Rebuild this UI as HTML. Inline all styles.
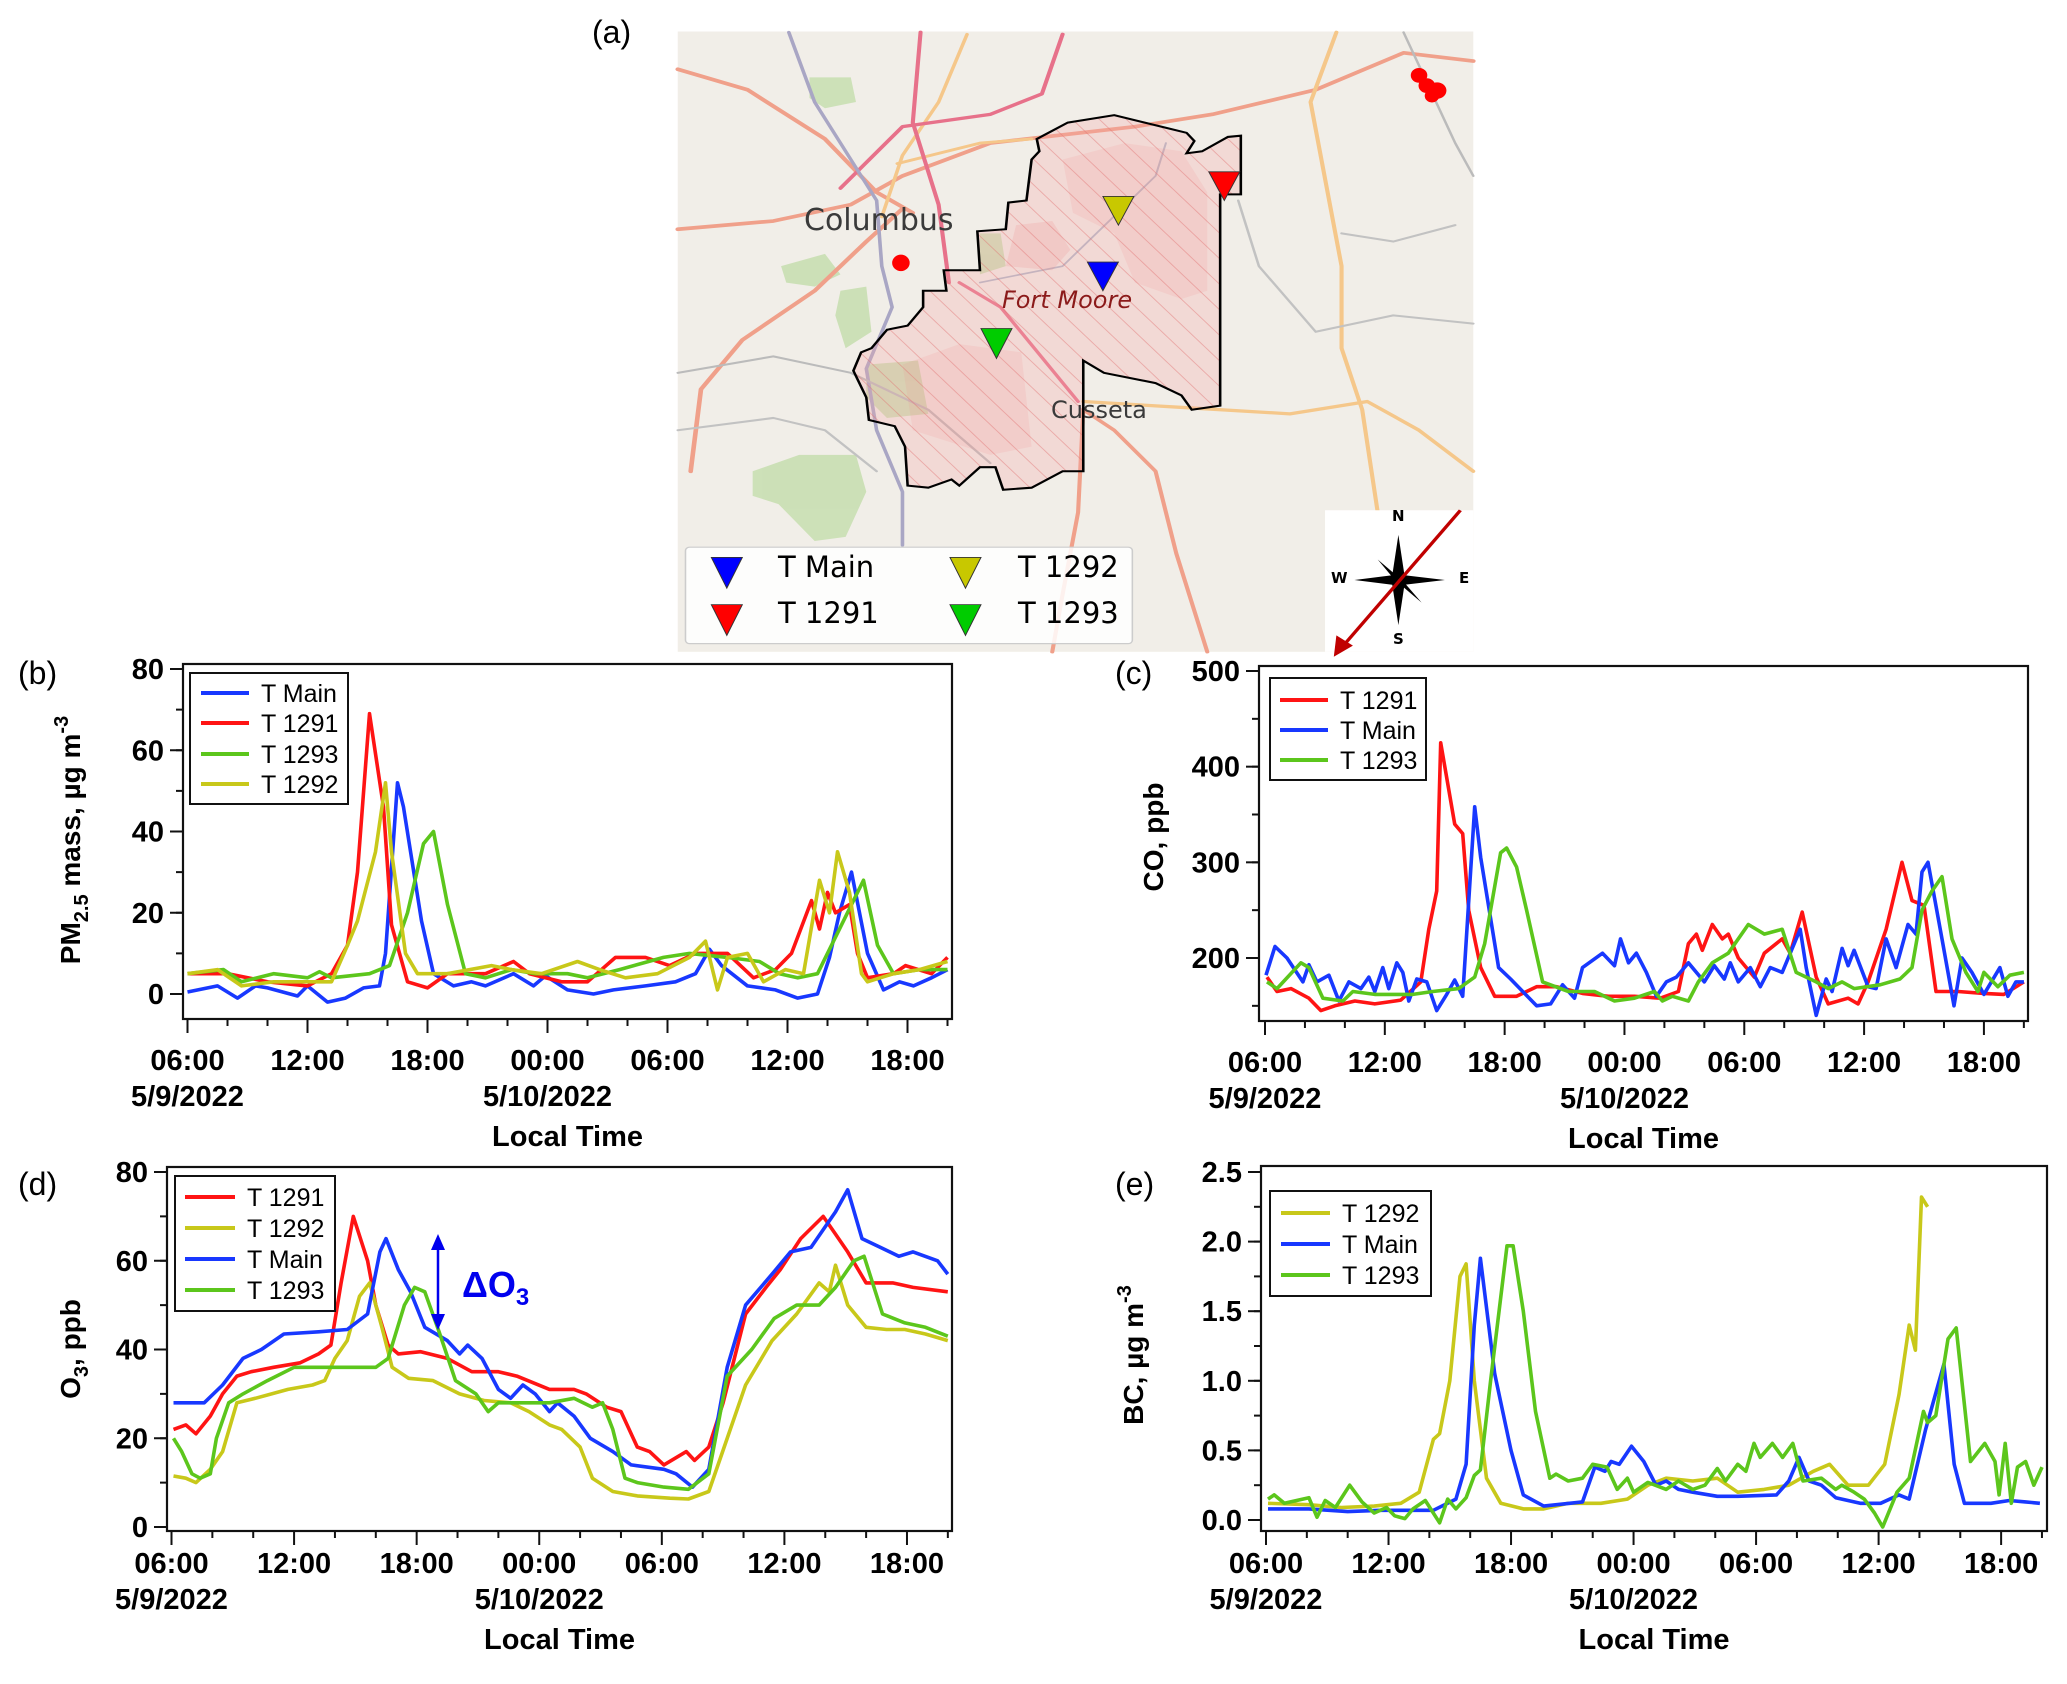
<!DOCTYPE html>
<html><head><meta charset="utf-8">
<style>
html,body{margin:0;padding:0;background:#fff;}
#root{position:relative;width:2067px;height:1684px;overflow:hidden;font-family:"Liberation Sans",Arial,sans-serif;}
svg text{font-family:"Liberation Sans",Arial,sans-serif;}
.maptxt{position:absolute;font-family:"DejaVu Sans","Liberation Sans",sans-serif;white-space:nowrap;}
</style></head>
<body>
<div id="root">
<svg id="mapsvg" style="position:absolute;left:670px;top:20px" width="810" height="640" viewBox="0 0 1568 1560" preserveAspectRatio="none">
  <defs>
    <pattern id="hatch" patternUnits="userSpaceOnUse" width="40" height="40" patternTransform="rotate(-40)">
      <line x1="0" y1="0" x2="0" y2="40" stroke="rgba(225,110,110,0.45)" stroke-width="4"/>
    </pattern>
  </defs>
  <rect x="15" y="28" width="1540" height="1512" fill="#f1eee8"/>
  <g fill="#c9dfb2" opacity="0.9">
    <path d="M270 140 L350 140 L360 200 L300 215 L270 190Z"/>
    <path d="M215 600 L300 570 L330 620 L280 650 L225 640Z"/>
    <path d="M330 660 L380 650 L390 760 L340 800 L320 720Z"/>
    <path d="M160 1100 L250 1060 L360 1060 L380 1150 L340 1260 L280 1270 L210 1180 L160 1160Z"/>
    <path d="M380 840 L480 830 L500 960 L420 970 L380 920Z"/>
    <path d="M600 520 L640 520 L650 600 L600 620Z"/>
  </g>
  <g fill="none" stroke-linecap="round" stroke-linejoin="round">
    <path d="M15 120 L150 170 L300 290 L400 420 L470 470" stroke="#f0a08a" stroke-width="9"/>
    <path d="M15 510 L200 490 L350 450 L450 380 L620 300 L900 260 L1050 230 L1250 170 L1420 80 L1555 100" stroke="#f0a08a" stroke-width="9"/>
    <path d="M40 1100 L60 900 L140 780 L280 660 L380 540 L450 460" stroke="#f0a08a" stroke-width="9"/>
    <path d="M800 950 L860 1000 L940 1100 L980 1300 L1040 1540" stroke="#f0a08a" stroke-width="8"/>
    <path d="M800 950 L790 1200 L760 1400 L740 1540" stroke="#f0a08a" stroke-width="8"/>
    <path d="M800 930 L1000 945 L1200 960 L1350 930 L1450 1000 L1555 1100" stroke="#f5c78a" stroke-width="8"/>
    <path d="M1290 30 L1240 200 L1270 400 L1300 600 L1300 800 L1340 950 L1370 1200" stroke="#f5c78a" stroke-width="8"/>
    <path d="M575 35 L520 200 L450 330 L410 480" stroke="#f5c78a" stroke-width="7"/>
    <path d="M440 350 L600 300 L700 290" stroke="#f5c78a" stroke-width="7"/>
    <path d="M485 30 L470 250 L520 450 L540 640" stroke="#e7718a" stroke-width="8"/>
    <path d="M760 35 L720 180 L620 230 L450 260 L330 410" stroke="#e7718a" stroke-width="8"/>
    <path d="M560 640 L640 700 L790 930" stroke="#e7718a" stroke-width="7"/>
    <path d="M230 30 L280 200 L400 440 L410 600 L430 700 L380 850 L400 1000 L450 1150 L450 1280" stroke="#a9a6c4" stroke-width="7"/>
    <path d="M15 860 L200 820 L350 860 L500 950 L620 1080" stroke="#bbb" stroke-width="5"/>
    <path d="M1420 30 L1520 300 L1555 380" stroke="#bbb" stroke-width="5"/>
    <path d="M1100 440 L1140 600 L1250 760 L1400 720 L1555 740" stroke="#c2c2c2" stroke-width="5"/>
    <path d="M1300 520 L1400 540 L1520 500" stroke="#c2c2c2" stroke-width="5"/>
    <path d="M600 640 L760 600 L940 380 L960 300" stroke="#b0b8c8" stroke-width="4"/>
    <path d="M15 1000 L200 970 L300 1000 L400 1100" stroke="#c2c2c2" stroke-width="5"/>
  </g>
  <path id="fmpoly" d="M710 290 L770 250 L860 232 L1000 275 L1015 295 L1000 325 L1030 320 L1080 285 L1105 282 L1105 425 L1065 425 L1065 940 L1010 950 L990 915 L940 885 L840 860 L800 830 L800 1100 L760 1100 L700 1140 L645 1145 L630 1090 L600 1090 L560 1135 L545 1120 L500 1140 L460 1135 L455 1040 L435 990 L385 975 L380 920 L355 855 L370 810 L390 800 L420 755 L460 745 L490 700 L490 660 L535 660 L530 610 L600 610 L595 515 L650 510 L655 445 L690 440 L700 340 L715 320 Z" fill="rgba(245,170,170,0.3)" stroke="none"/>
  <path d="M760 340 L880 300 L990 320 L1040 420 L1040 660 L990 680 L900 640 L860 520 L780 470Z" fill="rgba(240,140,140,0.15)"/>
  <path d="M670 500 L740 490 L775 560 L740 610 L650 600Z" fill="rgba(240,140,140,0.2)"/>
  <path d="M450 840 L560 790 L680 810 L700 1040 L620 1060 L470 1000Z" fill="rgba(240,140,140,0.15)"/>
  <path d="M710 290 L770 250 L860 232 L1000 275 L1015 295 L1000 325 L1030 320 L1080 285 L1105 282 L1105 425 L1065 425 L1065 940 L1010 950 L990 915 L940 885 L840 860 L800 830 L800 1100 L760 1100 L700 1140 L645 1145 L630 1090 L600 1090 L560 1135 L545 1120 L500 1140 L460 1135 L455 1040 L435 990 L385 975 L380 920 L355 855 L370 810 L390 800 L420 755 L460 745 L490 700 L490 660 L535 660 L530 610 L600 610 L595 515 L650 510 L655 445 L690 440 L700 340 L715 320 Z" fill="url(#hatch)" stroke="#000" stroke-width="5"/>
  <polygon points="838,430 898,430 868,500" fill="#c8c800" stroke="#333" stroke-width="2"/>
  <polygon points="808,590 868,590 838,660" fill="#0000ff" stroke="#333" stroke-width="2"/>
  <polygon points="1043,370 1103,370 1073,440" fill="#ff0000" stroke="#333" stroke-width="2"/>
  <polygon points="602,752 662,752 632,825" fill="#00cc00" stroke="#333" stroke-width="2"/>
  <g fill="#ff0000">
    <ellipse cx="447" cy="592" rx="17" ry="20"/>
    <ellipse cx="1450" cy="135" rx="16" ry="18"/>
    <ellipse cx="1465" cy="160" rx="16" ry="18"/>
    <ellipse cx="1485" cy="172" rx="18" ry="20"/>
    <ellipse cx="1475" cy="185" rx="14" ry="16"/>
  </g>
  <rect x="30" y="1285" width="865" height="235" rx="8" fill="rgba(255,255,255,0.85)" stroke="#ccc" stroke-width="3"/>
  <polygon points="80,1310 140,1310 110,1385" fill="#0000ff" stroke="#333" stroke-width="2"/>
  <polygon points="80,1425 140,1425 110,1500" fill="#ff0000" stroke="#333" stroke-width="2"/>
  <polygon points="542,1310 602,1310 572,1385" fill="#c8c800" stroke="#333" stroke-width="2"/>
  <polygon points="542,1425 602,1425 572,1500" fill="#00cc00" stroke="#333" stroke-width="2"/>
  <rect x="1268" y="1195" width="287" height="345" fill="#fff"/>
  <g fill="#000">
    <polygon points="1410,1255 1422,1355 1410,1365 1398,1355"/>
    <polygon points="1410,1475 1422,1375 1410,1365 1398,1375"/>
    <polygon points="1325,1365 1400,1353 1410,1365 1400,1377"/>
    <polygon points="1500,1365 1420,1353 1410,1365 1420,1377"/>
    <polygon points="1370,1315 1412,1360 1405,1368"/>
    <polygon points="1455,1420 1408,1370 1415,1362"/>
  </g>
  <line x1="1530" y1="1195" x2="1300" y2="1530" stroke="#c00000" stroke-width="7"/>
  <polygon points="1285,1552 1290,1500 1322,1525" fill="#c00000"/>
</svg>
<div class="maptxt" style="left:592px;top:14px;font-family:'Liberation Sans',sans-serif;font-size:32px;">(a)</div>
<div class="maptxt" style="left:804px;top:203px;font-size:30px;color:#3a3a3a;">Columbus</div>
<div class="maptxt" style="left:1002px;top:286px;font-size:24px;color:#8b1a1a;font-style:italic;">Fort Moore</div>
<div class="maptxt" style="left:1051px;top:396px;font-size:24px;color:#3a3a3a;">Cusseta</div>
<div class="maptxt" style="left:778px;top:550px;font-size:29px;">T Main</div>
<div class="maptxt" style="left:778px;top:596px;font-size:29px;">T 1291</div>
<div class="maptxt" style="left:1018px;top:550px;font-size:29px;">T 1292</div>
<div class="maptxt" style="left:1018px;top:596px;font-size:29px;">T 1293</div>
<div class="maptxt" style="left:1392px;top:507px;font-size:15px;font-weight:bold;">N</div>
<div class="maptxt" style="left:1393px;top:630px;font-size:15px;font-weight:bold;">S</div>
<div class="maptxt" style="left:1331px;top:569px;font-size:15px;font-weight:bold;">W</div>
<div class="maptxt" style="left:1459px;top:569px;font-size:15px;font-weight:bold;">E</div>

<svg id="charts" style="position:absolute;left:0;top:0" width="2067" height="1684"></svg>
</div>
<script>
// ---- shared axis data ----
const xTickHours = [0,6,12,18,24,30,36];
const xTickLabels = ["06:00","12:00","18:00","00:00","06:00","12:00","18:00"];
const dateHours = [0,18];
const dateLabels = ["5/9/2022","5/10/2022"];
// ---- (b) PM2.5 ----
const pmMainT=[0,1.5,2.5,3.4,4,5.5,6,7,7.9,8.8,9.6,9.9,10.5,10.8,11.7,12.3,13.3,14.2,14.9,16.3,17.3,17.9,19,20.3,21.3,22.9,24.4,25.4,26.1,26.7,28,29.4,30.5,31.5,32.1,32.6,33.2,34,34.8,35.6,36.3,37.2,38];
const pmMainV=[0.5,2,-1,2,1.5,-0.5,2,-2,-1,1.5,2,10,52,46,18,5,2,3,2,5,2,4.5,1,0,1,2,3,5,11,7,2,1,-1,0,9,20,30,10,1,3,2,4,6];
const pm1291T=[0,2,4,6,7.2,8,8.5,9.1,9.8,10.2,11,12,13,14.9,16.3,17.1,18.7,20,21.4,22.9,24.1,25.4,27,28.3,29.4,30.2,31.2,31.6,32,32.4,33.1,33.5,34,35.3,35.9,37.2,38];
const pm1291V=[5,5,3,2,5,12,30,69,46,17,3,1.5,5,5,8,5,3,3,9,9,7,10,10,4,6,10,23,16,25,20,22,10,4,5,7,5,9];
const pm1293T=[0,1.8,2.7,4.3,6,6.6,7.2,9.1,10.1,11,11.8,12.3,13,13.9,14.9,16.2,17.4,19,20,21.6,23.8,25.1,27,28.6,29.6,30.5,31.5,32.7,33.8,34.5,35.3,36.6,38];
const pm1293V=[5,6,3,5,4,5.5,4,5,7,20,37,40,22,5,4,6,5,5,4,6,9,10,9,8,5,4,5,17,28,12,5,6,6];
const pm1292T=[0,1.5,2.7,4.3,6,7.2,8,8.5,9.4,9.9,10.2,10.9,11.5,13,15.2,16.2,17.7,19.5,20.6,21.9,23.5,25.1,25.9,26.5,27,28,28.8,29.9,30.8,31.6,32.1,32.5,33.1,33.7,34,35.3,36.6,38];
const pm1292V=[5,6,2,3,3,3,12,18,35,52,35,10,5,5,7,6,5,8,6,4,5,9,13,1,9,10,3,6,5,28,20,35,25,5,3,5,6,8];
// ---- (c) CO ----
const co1291T=[0.1,0.6,1.3,2.2,2.8,3.5,4.5,5.5,6.8,7.8,8.2,8.6,8.8,9.5,9.9,10.2,10.8,11.5,12.6,13.6,14.6,15.9,17.2,18.5,19.8,20.7,21.2,21.6,21.9,22.4,22.9,23.2,23.7,24.5,25,25.9,26.3,26.9,27.6,28.2,29.2,29.7,30.2,31.1,31.9,32.4,33,33.6,34.7,36,37,38];
const co1291V=[180,165,168,158,145,150,155,152,156,175,230,270,425,340,330,250,190,160,160,170,170,163,160,160,158,165,215,225,208,235,220,225,200,180,205,220,205,248,180,152,158,152,175,230,300,260,255,165,165,163,162,175];
const coMainT=[0.05,0.5,1.1,1.9,2.2,2.6,3.2,3.7,4.2,4.8,5.2,5.5,5.9,6.2,6.6,6.9,7.2,7.6,8.1,8.6,9.1,9.5,9.9,10.5,10.8,11.7,12.3,13.6,14.3,14.9,15.5,15.9,16.9,17.5,17.8,18.2,18.6,19.1,19.6,20.1,20.6,21.2,22,22.5,23,23.3,23.7,24.3,24.8,25.3,25.9,26.8,27.1,27.6,28.1,28.4,28.9,29.2,29.5,30.2,30.6,31.1,31.6,32.2,32.6,32.9,33.2,33.9,34.5,34.9,35.4,36,36.8,37.2,37.6,38];
const coMainV=[182,212,200,175,193,175,182,155,175,168,180,165,190,168,195,185,155,178,175,145,162,177,160,358,305,190,178,150,152,172,158,190,205,192,220,195,205,185,160,175,180,195,175,192,178,195,175,190,170,190,185,230,190,140,178,165,210,192,208,170,168,220,190,235,225,290,300,220,150,200,185,162,190,160,175,175];
const co1293T=[0.1,0.6,1.8,2.2,2.9,3.9,4.4,5.5,7.4,8.4,9.7,10.5,11,11.8,12.1,12.6,13.1,13.9,15.2,16.5,17.5,18.5,19.5,19.9,20.4,21.2,21.7,22.4,23.2,24.2,25,25.9,26.6,27.6,28.2,28.9,29.5,30.8,31.8,32.4,32.9,33.4,33.9,34.4,35.1,35.7,36,36.7,37.3,38];
const co1293V=[175,168,195,190,158,155,165,162,162,165,168,180,215,310,315,295,250,175,165,165,155,158,165,155,160,155,175,195,205,235,225,230,185,175,168,175,168,172,178,190,250,270,285,220,185,165,185,170,182,185];
// ---- (d) O3 ----
const o31291T=[0.1,0.7,1.2,1.9,2.5,3.2,3.9,5,6.3,7.2,7.8,8.3,8.9,9.6,10,10.6,11.1,12.2,13.5,14.7,16,16.9,18.5,19.7,20.3,21.3,22,22.8,23.4,24.1,25.2,25.6,26.3,27,28.1,29.1,29.8,30.8,31.9,32.5,33.1,34,34.7,35.3,36.3,38];
const o31291V=[22,23,21,25,30,34,35,36,37,39,41,55,70,60,50,41,39,39.5,38,35,35,34,31,31,30,27,26,18,17,14,17,15,18,28,48,54,58,65,70,66,62,55,55,55,54,53];
const o3MainT=[0.1,1.6,2.5,3.5,4.4,5.5,7.2,8.6,9.6,10.2,10.5,11.1,11.7,12.4,13.5,14.1,14.5,15.2,16,16.6,17.2,17.8,18.5,18.9,19.7,20.5,21.6,22.5,24.1,24.7,25.5,26.3,27.2,28.1,29.4,30.3,31.3,32.5,33.1,33.8,34.7,35.6,36.3,37.5,38];
const o3MainV=[28,28,32,38,40,43.5,44,44.5,48,62,65,58,53,45,42,39,41,38,31,29,32,30,26,28,25,20,17,14,13,12,9,13,36,50,57,62,63,71,76,65,63,61,62,60,57];
const o31293T=[0.1,0.5,1,1.4,1.9,2.2,2.8,3.5,4.7,6,7.2,8.8,10,10.6,11.4,11.9,12.4,13.1,13.9,14.9,15.5,16,17.2,18.5,19.7,20.6,21.1,21.6,22.2,22.8,24.1,25.3,26.3,27.2,28.4,29.5,30.6,31.7,32.5,33.4,33.9,34.8,35.9,36.9,38];
const o31293V=[20,17,12,11,12,20,28,30,33,36,36,36,36,38,50,54,53,44,33,30,26,28,28,28,29,27,28,22,11,10,9,8.5,12,34,40,47,50,50,54,60,61,48,46,45,43];
const o31292T=[0.1,0.7,1.2,1.9,2.5,3.2,4.1,5.7,6.9,7.5,8,8.6,9.2,9.7,10.3,10.8,11.6,12.8,14.1,15.3,16.6,17.5,18.5,19.1,20,20.6,21.6,22.8,24.4,25.3,26.3,26.9,28.1,29.4,30.6,31.7,32.2,32.5,33.1,34,35,35.9,36.9,38];
const o31292V=[11.5,11,10,13,17,28,29,31,32,33,38,42,52,55,45,36,33.5,33,30,28.5,28,26,23,22,18,11,8,7,6.5,6.3,8,16,32,42,48,55,53,59,50,45,44.5,44.5,43.5,42];
// ---- (e) BC ----
const bc1292T=[0.1,2.1,3.7,5.3,6.6,7.5,8.2,8.5,9,9.5,9.8,10.2,10.8,11.5,12.6,13.6,14.8,16.4,17.7,18.7,19.6,20.9,22.1,23.1,24.4,25.6,26.8,27.6,28.5,29.5,30.3,31,31.5,31.8,32.1,32.4];
const bc1292V=[0.12,0.11,0.09,0.1,0.12,0.2,0.58,0.62,1.0,1.75,1.84,1.0,0.3,0.12,0.08,0.08,0.12,0.12,0.15,0.25,0.3,0.28,0.3,0.2,0.22,0.25,0.35,0.4,0.25,0.25,0.4,0.9,1.4,1.22,2.32,2.25];
const bcMainT=[0.1,2.1,4,5.6,8.2,9.3,9.8,10.2,10.5,11.2,12,12.6,13.6,15.5,16.1,16.6,16.9,17.3,17.9,18.5,19.1,19.6,20.2,20.9,22.1,23.1,25,25.6,26.1,26.6,27.2,27.9,29.1,30.1,31,31.5,32.3,33.2,33.7,34.2,35.5,36.4,37.2,37.9];
const bcMainV=[0.08,0.08,0.06,0.07,0.07,0.15,0.4,1.4,1.88,1.05,0.5,0.18,0.1,0.13,0.38,0.35,0.42,0.4,0.53,0.42,0.25,0.28,0.22,0.2,0.17,0.17,0.18,0.28,0.45,0.28,0.25,0.16,0.12,0.12,0.18,0.15,0.65,1.12,0.4,0.12,0.12,0.14,0.13,0.12];
const bc1293T=[0.1,0.4,0.9,1.5,2.1,2.5,2.9,3.4,4.1,4.7,5.3,5.9,6.3,6.8,7.2,7.8,8.5,8.9,9.3,9.8,10.2,10.5,11,11.8,12.1,12.6,13.2,13.9,14.2,14.8,15.5,16,16.7,17.2,17.7,18,18.7,19.6,20.2,20.9,21.5,22.1,22.5,23.1,23.5,23.9,24.2,24.8,25.3,25.8,26.3,27.2,27.9,28.2,28.8,29.3,29.8,30.2,30.9,31.5,32.2,32.4,32.8,33.4,33.8,34.5,35.2,35.7,35.9,36.2,36.5,36.8,37.2,37.6,38];
const bc1293V=[0.15,0.18,0.12,0.14,0.16,0.02,0.14,0.09,0.25,0.13,0.05,0.09,0.03,0.01,0.08,0.14,-0.02,0.15,0.08,0.16,0.32,0.36,1.0,1.97,1.97,1.5,0.78,0.3,0.33,0.28,0.3,0.4,0.38,0.22,0.3,0.2,0.27,0.22,0.28,0.22,0.25,0.37,0.28,0.4,0.35,0.55,0.45,0.55,0.45,0.55,0.28,0.3,0.22,0.25,0.2,0.15,0.05,-0.05,0.2,0.3,0.78,0.7,0.75,1.3,1.38,0.42,0.55,0.42,0.18,0.55,0.12,0.38,0.42,0.25,0.38];
// tick values / labels
const pmTicks=[0,20,40,60,80], pmTickLabels=["0","20","40","60","80"];
const coTicks=[200,300,400,500], coTickLabels=["200","300","400","500"];
const o3Ticks=[0,20,40,60,80], o3TickLabels=["0","20","40","60","80"];
const bcTicks=[0,0.5,1,1.5,2,2.5], bcTickLabels=["0.0","0.5","1.0","1.5","2.0","2.5"];

const RED="#ff1414", BLUE="#1838ff", GREEN="#5cc61c", YEL="#c8c81a";
const NS="http://www.w3.org/2000/svg";
const root=document.getElementById('charts');
function mk(tag,attrs,parent){const e=document.createElementNS(NS,tag);for(const k in attrs)e.setAttribute(k,attrs[k]);(parent||root).appendChild(e);return e;}

function drawPanel(c){
  const g=mk('g',{});
  
  
  const xS=h=>c.x0+h*c.ph;
  const yS=v=>c.p1+(v-c.v1)*(c.p2-c.p1)/(c.v2-c.v1);
  const yInv=p=>c.v1+(p-c.p1)*(c.v2-c.v1)/(c.p2-c.p1);
  const cp=mk('clipPath',{id:'clip'+c.id},g);
  mk('rect',{x:c.l,y:c.t,width:c.r-c.l,height:c.b-c.t},cp);
  c.series.forEach(s=>{
    const pts=s.t.map((h,i)=>xS(h).toFixed(1)+','+yS(s.v[i]).toFixed(1)).join(' ');
    const pl=mk('polyline',{points:pts,fill:'none',stroke:s.color,'stroke-width':3.6,'stroke-linejoin':'round','clip-path':'url(#clip'+c.id+')'},g);
    
    
  });
  const fr=mk('rect',{x:c.l,y:c.t,width:c.r-c.l,height:c.b-c.t,fill:'none',stroke:'#111','stroke-width':2.2},g);
  
  
  for(let h=0;h<=38;h+=2){
    const x=xS(h), major=(h%6===0);
    mk('line',{x1:x,y1:c.b,x2:x,y2:c.b+(major?14:7),stroke:'#111','stroke-width':2},g);
  }
  xTickHours.forEach((h,i)=>{
    const t=mk('text',{x:xS(h),y:c.b+c.lab+10,'text-anchor':'middle','font-size':29,'font-weight':'bold'},g);
    t.textContent=xTickLabels[i];
    
    
  });
  dateHours.forEach((h,i)=>{
    const t=mk('text',{x:xS(h),y:c.b+c.lab+46,'text-anchor':'middle','font-size':29,'font-weight':'bold'},g);
    t.textContent=dateLabels[i];
    
    
  });
  const xt=mk('text',{x:(c.l+c.r)/2,y:c.b+c.lab+86,'text-anchor':'middle','font-size':29,'font-weight':'bold'},g);
  xt.textContent='Local Time';
  
  
  const vTop=yInv(c.t), vBot=yInv(c.b);
  for(let v=Math.ceil(vBot/c.minor)*c.minor; v<=vTop+1e-9; v+=c.minor){
    const y=yS(v);
    mk('line',{x1:c.l,y1:y,x2:c.l-7,y2:y,stroke:'#111','stroke-width':2},g);
  }
  c.ticks.forEach((v,i)=>{
    const y=yS(v);
    mk('line',{x1:c.l,y1:y,x2:c.l-13,y2:y,stroke:'#111','stroke-width':2},g);
    const t=mk('text',{x:c.l-19,y:y+10,'text-anchor':'end','font-size':29,'font-weight':'bold'},g);
    t.textContent=c.tickLabels[i];
    
    
  });
  const yt=mk('text',{x:0,y:0,'text-anchor':'middle','font-size':28,'font-weight':'bold',transform:`translate(${c.ytx},${c.yty}) rotate(-90)`},g);
  yt.innerHTML=c.ytitle;
  
  
  const pl=mk('text',{x:c.lx,y:c.ly+11,'font-size':32},g);
  pl.textContent='('+c.id+')';
  
  
  const L=c.leg;
  const lg=mk('g',{},g);
  
  
  mk('rect',{x:L.x1,y:L.y1,width:L.x2-L.x1,height:L.y2-L.y1,fill:'#fff',stroke:'#111','stroke-width':2},lg);
  L.order.forEach((si,i)=>{
    const s=c.series[si], y=L.ys[i];
    const ln=mk('line',{x1:L.lx1,y1:y,x2:L.lx2,y2:y,stroke:s.color,'stroke-width':4},lg);
    
    
    const t=mk('text',{x:L.tx,y:y+9,'font-size':25},lg);
    t.textContent=s.name;
    
    
  });
  return {xS,yS,g};
}

drawPanel({id:'b',l:183,t:664,r:952,b:1019,x0:187.5,ph:20,v1:0,p1:994,v2:80,p2:669,lab:41,
  ticks:pmTicks,tickLabels:pmTickLabels,minor:10,ytx:80,yty:840,
  ytitle:'PM<tspan font-size="20" dy="8">2.5</tspan><tspan dy="-8"> mass, µg m</tspan><tspan font-size="20" dy="-12">-3</tspan>',
  lx:18,ly:673,
  series:[{key:'pm-t-main',name:'T Main',color:BLUE,t:pmMainT,v:pmMainV},
          {key:'pm-t1291',name:'T 1291',color:RED,t:pm1291T,v:pm1291V},
          {key:'pm-t1293',name:'T 1293',color:GREEN,t:pm1293T,v:pm1293V},
          {key:'pm-t1292',name:'T 1292',color:YEL,t:pm1292T,v:pm1292V}],
  leg:{x1:190,y1:673,x2:348,y2:804,lx1:201,lx2:249,tx:261,ys:[693,723,754,784],order:[0,1,2,3]}});

drawPanel({id:'c',l:1259,t:666,r:2028,b:1021,x0:1265,ph:19.97,v1:200,p1:958,v2:500,p2:671,lab:41,
  ticks:coTicks,tickLabels:coTickLabels,minor:50,ytx:1163,yty:837,
  ytitle:'CO, ppb',lx:1115,ly:673,
  series:[{key:'co-t1291',name:'T 1291',color:RED,t:co1291T,v:co1291V},
          {key:'co-t-main',name:'T Main',color:BLUE,t:coMainT,v:coMainV},
          {key:'co-t1293',name:'T 1293',color:GREEN,t:co1293T,v:co1293V}],
  leg:{x1:1270,y1:678,x2:1426,y2:780,lx1:1280,lx2:1328,tx:1340,ys:[700,730,760],order:[0,1,2]}});

drawPanel({id:'d',l:167,t:1167,r:952,b:1531,x0:171.5,ph:20.43,v1:0,p1:1527,v2:80,p2:1172,lab:32,
  ticks:o3Ticks,tickLabels:o3TickLabels,minor:10,ytx:80,yty:1349,
  ytitle:'O<tspan font-size="20" dy="8">3</tspan><tspan dy="-8">, ppb</tspan>',lx:18,ly:1184,
  series:[{key:'o3-t1291',name:'T 1291',color:RED,t:o31291T,v:o31291V},
          {key:'o3-t1292',name:'T 1292',color:YEL,t:o31292T,v:o31292V},
          {key:'o3-t-main',name:'T Main',color:BLUE,t:o3MainT,v:o3MainV},
          {key:'o3-t1293',name:'T 1293',color:GREEN,t:o31293T,v:o31293V}],
  leg:{x1:175,y1:1176,x2:335,y2:1311,lx1:185,lx2:235,tx:247,ys:[1197,1228,1259,1290],order:[0,1,2,3]}});

drawPanel({id:'e',l:1261,t:1166,r:2047,b:1531,x0:1266,ph:20.42,v1:0,p1:1520,v2:2.5,p2:1172,lab:32,
  ticks:bcTicks,tickLabels:bcTickLabels,minor:0.25,ytx:1143,yty:1355,
  ytitle:'BC, µg m<tspan font-size="20" dy="-12">-3</tspan>',lx:1115,ly:1184,
  series:[{key:'bc-t1292',name:'T 1292',color:YEL,t:bc1292T,v:bc1292V},
          {key:'bc-t-main',name:'T Main',color:BLUE,t:bcMainT,v:bcMainV},
          {key:'bc-t1293',name:'T 1293',color:GREEN,t:bc1293T,v:bc1293V}],
  leg:{x1:1270,y1:1191,x2:1431,y2:1296,lx1:1281,lx2:1330,tx:1342,ys:[1213,1244,1275],order:[0,1,2]}});

const ann=mk('g',{});


mk('line',{x1:438,y1:1246,x2:438,y2:1318,stroke:'#0000ee','stroke-width':2.5},ann);
mk('polygon',{points:'438,1234 431,1250 445,1250',fill:'#0000ee'},ann);
mk('polygon',{points:'438,1330 431,1314 445,1314',fill:'#0000ee'},ann);
const dt=mk('text',{x:462,y:1297,'font-size':36,'font-weight':'bold',fill:'#0000ee','font-family':'Liberation Serif, serif'},ann);
dt.innerHTML='ΔO<tspan font-size="24" dy="8">3</tspan>';


</script>
</body></html>
